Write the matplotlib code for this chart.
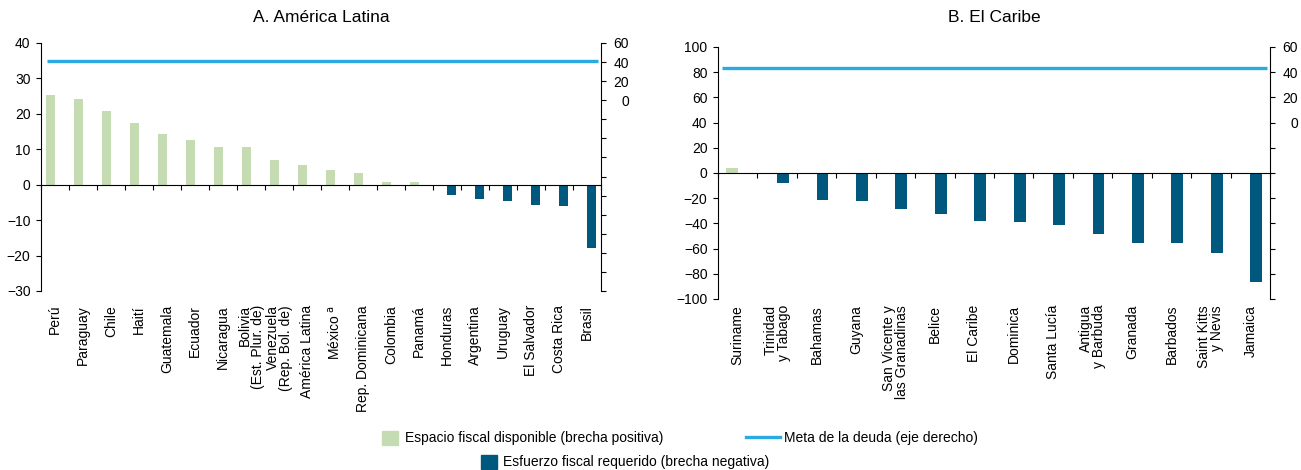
import matplotlib
matplotlib.use('Agg')
import matplotlib.pyplot as plt
import numpy as np
from matplotlib import transforms
from matplotlib.patches import Patch
from matplotlib.lines import Line2D

plt.rcParams['font.family'] = ['Liberation Sans', 'DejaVu Sans']
plt.rcParams['font.size'] = 10

# A. América Latina
paises_al = ['Perú', 'Paraguay', 'Chile', 'Haití', 'Guatemala', 'Ecuador', 'Nicaragua',
             'Bolivia\n(Est. Plur. de)', 'Venezuela\n(Rep. Bol. de)', 'América Latina',
             'México $^{\\mathrm{a}}$', 'Rep. Dominicana', 'Colombia', 'Panamá', 'Honduras',
             'Argentina', 'Uruguay', 'El Salvador', 'Costa Rica', 'Brasil']
brecha_al = [25.3, 24.2, 20.8, 17.4, 14.3, 12.6, 10.6, 10.6, 6.9, 5.5, 4.1, 3.2, 0.9, 0.7,
             -2.9, -4.1, -4.6, -5.8, -6.0, -17.9]
meta_al = 41

# B. El Caribe
paises_ca = ['Suriname', 'Trinidad\ny Tabago', 'Bahamas', 'Guyana',
             'San Vicente y\nlas Granadinas', 'Belice', 'El Caribe', 'Dominica', 'Santa Lucía',
             'Antigua\ny Barbuda', 'Granada', 'Barbados', 'Saint Kitts\ny Nevis', 'Jamaica']
brecha_ca = [4.0, -7.7, -21.4, -22.2, -28.5, -32.2, -38.0, -38.8, -41.2, -48.3, -55.4, -55.4,
             -63.3, -86.3]
meta_ca = 43

VERDE = '#C5DCB3'
AZUL = '#00587F'
CELESTE = '#29ABE2'

W, H = 1301, 470
fig = plt.figure(figsize=(W / 100, H / 100), dpi=100)


def panel(rect, labels, vals, meta, ylim, ystep, ylim2, bar_w, line_ext, titulo):
    x0, y0, x1, y1 = rect
    ax = fig.add_axes([x0 / W, 1 - y1 / H, (x1 - x0) / W, (y1 - y0) / H])
    n = len(labels)
    x = np.arange(n)
    vals = np.array(vals)
    pos = np.where(vals > 0, vals, 0)
    neg = np.where(vals < 0, vals, 0)
    ax.bar(x - bar_w / 2, pos, bar_w, color=VERDE, linewidth=0)
    ax.bar(x + bar_w / 2, neg, bar_w, color=AZUL, linewidth=0)
    ax.set_xlim(-0.5, n - 0.5)
    ax.set_ylim(*ylim)
    ax.set_yticks(np.arange(ylim[0], ylim[1] + 1, ystep))

    for s in ['top', 'right']:
        ax.spines[s].set_visible(False)
    ax.spines['bottom'].set_position(('data', 0))
    ax.spines['bottom'].set_linewidth(0.8)
    ax.spines['left'].set_linewidth(0.8)
    ax.set_xticks(np.arange(-0.5, n, 1))
    ax.set_xticklabels([])
    ax.tick_params(axis='x', length=3.5, width=0.8, direction='out')
    ax.tick_params(axis='y', length=3.5, width=0.8, direction='out', pad=4, labelsize=10)

    # etiquetas de categorias
    tr = transforms.blended_transform_factory(ax.transData, fig.transFigure)
    for i, lab in enumerate(labels):
        ax.text(i, 1 - 305 / H, lab, transform=tr, rotation=90, ha='center', va='top',
                multialignment='right', fontsize=10, linespacing=0.92)

    # eje derecho
    ax2 = ax.twinx()
    ax2.set_ylim(*ylim2)
    t2 = np.arange(ylim2[0], ylim2[1] + 1, 20)
    ax2.set_yticks(t2)
    ax2.set_yticklabels([str(t) if t >= 0 else '' for t in t2])
    for s in ['top', 'left', 'bottom']:
        ax2.spines[s].set_visible(False)
    ax2.spines['right'].set_linewidth(0.8)
    ax2.tick_params(axis='y', length=3.5, width=0.8, direction='out', pad=16.5, labelsize=10)
    for t in ax2.get_yticklabels():
        t.set_horizontalalignment('right')
    ax2.axhline(meta, xmin=line_ext[0], xmax=line_ext[1], color=CELESTE, linewidth=2.4,
                solid_capstyle='butt')

    fig.text((x0 + x1) / 2 / W, 1 - 18 / H, titulo, ha='center', va='center', fontsize=12.5)
    return ax


panel((41, 43, 601, 291), paises_al, brecha_al, meta_al, (-30, 40), 10, (-200, 60), 0.32,
      (0.01, 0.995), 'A. América Latina')
panel((718, 47, 1270, 299), paises_ca, brecha_ca, meta_ca, (-100, 100), 20, (-140, 60), 0.30,
      (0.007, 0.994), 'B. El Caribe')

# leyenda
items = [
    (Patch(color=VERDE), 'Espacio fiscal disponible (brecha positiva)', 382, 438, 1.15, 0.5),
    (Line2D([], [], color=CELESTE, linewidth=2.4), 'Meta de la deuda (eje derecho)', 746, 438, 2.45, 0.3),
    (Patch(color=AZUL), 'Esfuerzo fiscal requerido (brecha negativa)', 481, 462, 1.15, 0.4),
]
for h, lab, px, py, hl, tp in items:
    fig.legend(handles=[h], labels=[lab], loc='center left', bbox_to_anchor=(px / W, 1 - py / H),
               frameon=False, borderpad=0, borderaxespad=0, handlelength=hl, handleheight=1.2,
               handletextpad=tp, fontsize=10)

fig.savefig('out.png', dpi=100)
